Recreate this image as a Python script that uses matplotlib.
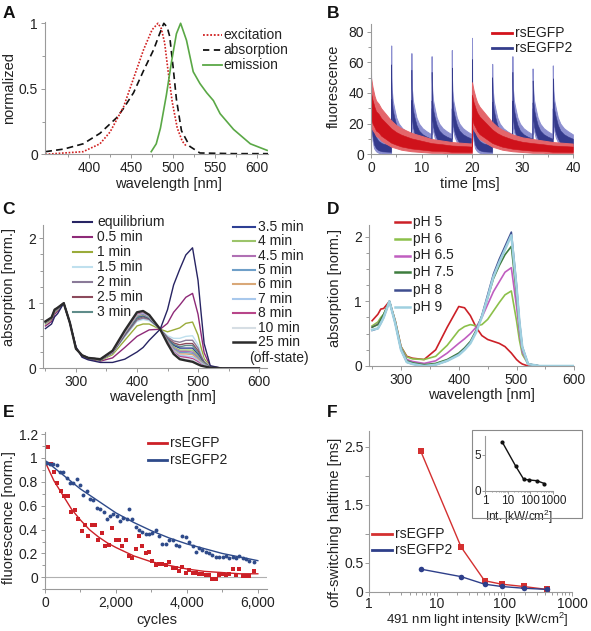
import numpy as np
import matplotlib
matplotlib.use('Agg')
import matplotlib.pyplot as plt
from matplotlib.lines import Line2D
from matplotlib.patches import Rectangle
from matplotlib.ticker import LogLocator, NullFormatter

plt.rcParams['font.family'] = ['Liberation Sans', 'DejaVu Sans']
plt.rcParams['mathtext.fontset'] = 'custom'
plt.rcParams['mathtext.rm'] = 'Liberation Sans'
plt.rcParams['mathtext.it'] = 'Liberation Sans:italic'
plt.rcParams['mathtext.bf'] = 'Liberation Sans:bold'

# ---------------- data ----------------
# Panel A: spectra (wavelength nm, normalized)
a_exc_nm = [348, 370, 393, 413, 425, 441, 453, 465, 475, 482, 486, 490, 494, 499, 505, 511, 516]
a_exc = [0.0, 0.01, 0.02, 0.08, 0.17, 0.36, 0.58, 0.80, 0.95, 1.00, 0.96, 0.85, 0.64, 0.40, 0.20, 0.10, 0.06]
a_abs_nm = [348, 370, 393, 413, 433, 441, 453, 465, 477, 484, 489, 493, 496, 500, 504, 510, 520, 532, 572, 613]
a_abs = [0.02, 0.04, 0.08, 0.16, 0.28, 0.35, 0.47, 0.64, 0.80, 0.92, 1.00, 0.97, 0.90, 0.67, 0.42, 0.18, 0.06, 0.01, 0.005, 0.005]
a_em_nm = [474, 480, 485, 492, 498, 504, 509, 516, 524, 532, 540, 548, 556, 572, 592, 612]
a_em = [0.02, 0.08, 0.20, 0.45, 0.70, 0.92, 1.00, 0.87, 0.63, 0.54, 0.47, 0.41, 0.31, 0.19, 0.08, 0.03]

# Panel B: noisy fluorescence traces, read as lower/upper envelopes
b_red_t = [0, 0.3, 0.7, 1, 1.5, 2, 3, 4, 5, 6, 8, 10, 12, 14, 16, 18, 19.95,
           20, 20.3, 20.7, 21, 21.5, 22, 23, 24, 25, 26, 28, 30, 32, 34, 36, 38, 39.95]
b_red_hi = [50, 44, 38, 35, 33, 30, 26, 22, 19, 17, 14, 12, 10, 9, 8, 7.5, 7,
            47, 42, 37, 34, 31, 29, 25, 21, 18, 16, 13, 11, 10, 9, 8, 7.5, 7]
b_red_lo = [18, 16, 14, 12, 11, 9, 7, 5, 4, 3, 2, 1.5, 1, 1, 0.5, 0.5, 0.5,
            20, 16, 14, 12, 10, 9, 7, 5, 4, 3, 2, 1.5, 1, 1, 0.5, 0.5, 0.5]
b_blue_starts = [0, 4, 8, 12, 16, 20, 24, 28, 32, 36]
b_blue_peaks = [57, 71, 66, 64, 68, 76, 59, 64, 56, 58]
b_blue_offsets = [0, 0.03, 0.12, 0.3, 0.6, 1.0, 1.5, 2.2, 3.0, 3.97]
b_blue_hi_first = [45, 36, 28, 20, 15, 12, 10, 9, 8]
b_blue_lo_first = [30, 24, 16, 9, 4, 2, 1, 0.5, 0.5, 0.5]
b_blue_hi_rest = [50, 42, 35, 30, 24, 20, 17, 15, 13]
b_blue_lo_rest = [30, 26, 20, 15, 11, 8, 5, 4, 3.5, 3.5]

# Panel C: absorption spectra during off-switching
c_nm = [250, 260, 265, 270, 280, 290, 300, 310, 320, 340, 360, 380, 400, 410, 420, 438,
        450, 460, 470, 480, 491, 500, 505, 510, 520, 540, 600]
c_eq = [0.61, 0.68, 0.79, 0.84, 1.00, 0.70, 0.33, 0.17, 0.13, 0.09, 0.09, 0.14, 0.25, 0.32, 0.43, 0.60,
        0.90, 1.28, 1.52, 1.74, 1.85, 1.35, 0.85, 0.38, 0.04, 0.0, 0.0]
c_05 = [0.65, 0.72, 0.83, 0.88, 1.00, 0.70, 0.32, 0.18, 0.14, 0.11, 0.16, 0.32, 0.49, 0.54, 0.59, 0.60,
        0.69, 0.86, 0.97, 1.09, 1.15, 0.83, 0.53, 0.24, 0.03, 0.0, 0.0]
c_1 = [0.68, 0.75, 0.86, 0.90, 1.00, 0.70, 0.31, 0.19, 0.15, 0.12, 0.21, 0.43, 0.65, 0.68, 0.68, 0.60,
       0.56, 0.59, 0.62, 0.69, 0.71, 0.51, 0.32, 0.15, 0.02, 0.0, 0.0]
c_15 = [0.69, 0.76, 0.87, 0.91, 1.00, 0.70, 0.31, 0.19, 0.15, 0.13, 0.23, 0.48, 0.72, 0.75, 0.73, 0.60,
        0.50, 0.46, 0.46, 0.49, 0.50, 0.36, 0.23, 0.11, 0.02, 0.0, 0.0]
c_2 = [0.70, 0.76, 0.88, 0.91, 1.00, 0.70, 0.31, 0.19, 0.15, 0.13, 0.24, 0.50, 0.74, 0.77, 0.75, 0.60,
       0.48, 0.42, 0.40, 0.43, 0.43, 0.31, 0.19, 0.10, 0.02, 0.0, 0.0]
c_25 = [0.70, 0.76, 0.88, 0.92, 1.00, 0.70, 0.30, 0.20, 0.16, 0.13, 0.24, 0.51, 0.76, 0.79, 0.76, 0.60,
        0.46, 0.39, 0.36, 0.38, 0.38, 0.27, 0.17, 0.09, 0.01, 0.0, 0.0]
c_3 = [0.70, 0.77, 0.88, 0.92, 1.00, 0.70, 0.30, 0.20, 0.16, 0.13, 0.24, 0.52, 0.77, 0.80, 0.77, 0.60,
       0.45, 0.37, 0.33, 0.35, 0.35, 0.24, 0.15, 0.08, 0.01, 0.0, 0.0]
c_35 = [0.71, 0.77, 0.89, 0.92, 1.00, 0.70, 0.30, 0.20, 0.16, 0.13, 0.25, 0.53, 0.79, 0.81, 0.77, 0.60,
        0.44, 0.35, 0.31, 0.31, 0.31, 0.21, 0.14, 0.07, 0.01, 0.0, 0.0]
c_4 = [0.71, 0.77, 0.89, 0.92, 1.00, 0.70, 0.30, 0.20, 0.16, 0.14, 0.25, 0.54, 0.80, 0.82, 0.78, 0.60,
       0.43, 0.33, 0.28, 0.28, 0.28, 0.19, 0.12, 0.07, 0.01, 0.0, 0.0]
c_45 = [0.71, 0.77, 0.89, 0.92, 1.00, 0.70, 0.30, 0.20, 0.16, 0.14, 0.25, 0.54, 0.81, 0.83, 0.79, 0.60,
        0.42, 0.31, 0.26, 0.26, 0.25, 0.17, 0.11, 0.06, 0.01, 0.0, 0.0]
c_5 = [0.71, 0.77, 0.89, 0.92, 1.00, 0.70, 0.30, 0.20, 0.16, 0.14, 0.26, 0.55, 0.81, 0.84, 0.79, 0.60,
       0.42, 0.30, 0.24, 0.24, 0.23, 0.16, 0.10, 0.06, 0.01, 0.0, 0.0]
c_6 = [0.71, 0.77, 0.89, 0.93, 1.00, 0.70, 0.30, 0.20, 0.16, 0.14, 0.26, 0.55, 0.82, 0.85, 0.80, 0.60,
       0.41, 0.28, 0.22, 0.22, 0.21, 0.14, 0.09, 0.05, 0.01, 0.0, 0.0]
c_7 = [0.72, 0.78, 0.90, 0.93, 1.00, 0.70, 0.30, 0.20, 0.16, 0.14, 0.26, 0.56, 0.83, 0.85, 0.80, 0.60,
       0.40, 0.27, 0.20, 0.19, 0.18, 0.12, 0.08, 0.05, 0.01, 0.0, 0.0]
c_8 = [0.72, 0.78, 0.90, 0.93, 1.00, 0.70, 0.30, 0.20, 0.16, 0.14, 0.26, 0.57, 0.84, 0.86, 0.81, 0.60,
       0.40, 0.25, 0.18, 0.17, 0.15, 0.10, 0.06, 0.04, 0.01, 0.0, 0.0]
c_10 = [0.72, 0.78, 0.90, 0.93, 1.00, 0.70, 0.30, 0.20, 0.16, 0.14, 0.27, 0.57, 0.85, 0.87, 0.81, 0.60,
        0.39, 0.24, 0.16, 0.14, 0.13, 0.08, 0.05, 0.04, 0.01, 0.0, 0.0]
c_25min = [0.72, 0.78, 0.90, 0.93, 1.00, 0.70, 0.30, 0.20, 0.16, 0.14, 0.27, 0.58, 0.86, 0.88, 0.82, 0.60,
           0.38, 0.22, 0.14, 0.12, 0.10, 0.06, 0.04, 0.03, 0.01, 0.0, 0.0]
c_labels = ['equilibrium', '0.5 min', '1 min', '1.5 min', '2 min', '2.5 min', '3 min', '3.5 min',
            '4 min', '4.5 min', '5 min', '6 min', '7 min', '8 min', '10 min', '25 min']
c_colors = ['#272463', '#8e2a78', '#9aab3a', '#bfe0ee', '#8a7a98', '#8c4a5c', '#5f8c8a', '#2e3f94',
            '#9cc46a', '#b070b4', '#6f9fc8', '#d9a878', '#a8c8ec', '#b8468a', '#d6dee4', '#2b2b2b']

# Panel D: absorption spectra at different pH
d_nm = [250, 260, 265, 270, 280, 290, 300, 310, 320, 340, 360, 380, 400, 410, 420, 430, 440,
        450, 460, 470, 480, 491, 500, 505, 510, 520, 540, 600]
d_ph5 = [0.70, 0.80, 0.88, 0.89, 1.00, 0.70, 0.30, 0.15, 0.12, 0.10, 0.25, 0.60, 0.92, 0.90, 0.78, 0.60, 0.47,
         0.41, 0.38, 0.35, 0.30, 0.20, 0.10, 0.06, 0.03, 0.0, 0.0, 0.0]
d_ph6 = [0.62, 0.68, 0.75, 0.80, 1.00, 0.70, 0.30, 0.14, 0.11, 0.10, 0.15, 0.32, 0.55, 0.61, 0.64, 0.62, 0.64,
         0.72, 0.85, 0.98, 1.10, 1.16, 0.70, 0.40, 0.18, 0.03, 0.0, 0.0]
d_ph65 = [0.60, 0.65, 0.72, 0.78, 1.00, 0.68, 0.28, 0.10, 0.07, 0.04, 0.08, 0.20, 0.35, 0.42, 0.50, 0.60, 0.75,
          0.95, 1.15, 1.30, 1.45, 1.52, 0.92, 0.52, 0.22, 0.03, 0.0, 0.0]
d_ph75 = [0.60, 0.64, 0.72, 0.80, 1.00, 0.68, 0.27, 0.08, 0.05, 0.02, 0.04, 0.10, 0.20, 0.28, 0.38, 0.55, 0.77,
          1.05, 1.35, 1.55, 1.72, 1.85, 1.10, 0.62, 0.27, 0.03, 0.0, 0.0]
d_ph8 = [0.55, 0.58, 0.66, 0.75, 1.00, 0.66, 0.25, 0.06, 0.03, 0.0, 0.02, 0.08, 0.18, 0.26, 0.36, 0.53, 0.78,
         1.10, 1.42, 1.65, 1.85, 2.07, 1.25, 0.70, 0.30, 0.03, 0.0, 0.0]
d_ph9 = [0.56, 0.58, 0.66, 0.75, 1.00, 0.66, 0.25, 0.06, 0.03, 0.0, 0.02, 0.08, 0.17, 0.25, 0.35, 0.52, 0.76,
         1.06, 1.38, 1.60, 1.80, 2.02, 1.22, 0.68, 0.29, 0.03, 0.0, 0.0]
d_labels = ['pH 5', 'pH 6', 'pH 6.5', 'pH 7.5', 'pH 8', 'pH 9']
d_colors = ['#cc2027', '#8cc04a', '#c05ec0', '#3e7d3e', '#3e4d8f', '#9fd0e0']

# Panel E: fluorescence vs switching cycles
e_red_x = [75, 160, 250, 350, 450, 545, 640, 735, 850, 940, 1035, 1130, 1220, 1315, 1410, 1505, 1600, 1695,
           1805, 1900, 1995, 2090, 2180, 2275, 2370, 2465, 2560, 2650, 2745, 2840, 2935, 3030, 3125, 3215,
           3310, 3405, 3500, 3595, 3690, 3780, 3875, 3970, 4065, 4160, 4250, 4345, 4440, 4535, 4630, 4720,
           4815, 4910, 5005, 5100, 5195, 5290, 5380, 5475, 5570, 5665, 5760, 5880]
e_red_y = [1.09, 0.95, 0.88, 0.79, 0.72, 0.68, 0.68, 0.55, 0.56, 0.49, 0.39, 0.44, 0.35, 0.44, 0.44, 0.31,
           0.37, 0.26, 0.27, 0.41, 0.31, 0.31, 0.26, 0.31, 0.18, 0.16, 0.24, 0.35, 0.26, 0.20, 0.21, 0.14,
           0.10, 0.11, 0.11, 0.10, 0.13, 0.08, 0.08, 0.05, 0.09, 0.04, 0.06, 0.04, 0.04, 0.03, 0.03, 0.02,
           0.02, -0.01, -0.01, 0.02, 0.03, 0.02, 0.03, 0.07, 0.02, 0.07, 0.01, 0.01, 0.01, 0.05]
e_blue_x = [50, 140, 235, 330, 425, 515, 610, 705, 800, 895, 990, 1085, 1175, 1270, 1365, 1460, 1555, 1650,
            1740, 1835, 1930, 2025, 2120, 2210, 2305, 2370, 2465, 2560, 2650, 2745, 2840, 2935, 3030, 3125,
            3215, 3310, 3405, 3500, 3595, 3690, 3780, 3875, 3970, 4065, 4160, 4250, 4345, 4440, 4535, 4630,
            4720, 4815, 4910, 5005, 5100, 5195, 5290, 5380, 5475, 5570, 5665, 5760, 5880]
e_blue_y = [0.96, 0.95, 0.95, 0.94, 0.88, 0.88, 0.83, 0.79, 0.79, 0.82, 0.77, 0.69, 0.72, 0.66, 0.65, 0.58,
            0.57, 0.55, 0.49, 0.51, 0.53, 0.51, 0.47, 0.50, 0.49, 0.57, 0.49, 0.42, 0.40, 0.38, 0.36, 0.36,
            0.37, 0.40, 0.35, 0.28, 0.28, 0.31, 0.31, 0.27, 0.26, 0.35, 0.34, 0.30, 0.26, 0.21, 0.25, 0.23,
            0.21, 0.20, 0.19, 0.17, 0.17, 0.17, 0.18, 0.16, 0.17, 0.16, 0.18, 0.16, 0.15, 0.14, 0.13]
e_fit_x = [0, 250, 500, 750, 1000, 1250, 1500, 1750, 2000, 2500, 3000, 3500, 4000, 4500, 5000, 5500, 6000]
e_fit_red = [0.97, 0.81, 0.69, 0.57, 0.48, 0.40, 0.34, 0.29, 0.25, 0.18, 0.13, 0.10, 0.07, 0.05, 0.04, 0.03, 0.03]
e_fit_blue = [0.98, 0.92, 0.86, 0.80, 0.74, 0.69, 0.64, 0.59, 0.54, 0.46, 0.39, 0.33, 0.28, 0.24, 0.20, 0.17, 0.14]

# Panel F: off-switching halftime vs intensity
f_int = [5.8, 23, 51, 91, 192, 420]
f_red = [2.43, 0.77, 0.19, 0.13, 0.09, 0.04]
f_blue = [0.39, 0.26, 0.13, 0.09, 0.06, 0.04]
f_ratio = [6.8, 3.4, 1.6, 1.5, 1.4, 1.0]

# ---------------- figure ----------------
W, H = 591, 631
TXT = '#222222'
SP = '#9a9a9a'

fig = plt.figure(figsize=(W / 100, H / 100), dpi=100)


def px_axes(l, t, r, b):
    return fig.add_axes([l / W, 1 - b / H, (r - l) / W, (b - t) / H])


def style(ax, fs=10):
    for s in ['top', 'right']:
        ax.spines[s].set_visible(False)
    for s in ['left', 'bottom']:
        ax.spines[s].set_color(SP)
        ax.spines[s].set_linewidth(0.8)
    ax.tick_params(which='both', direction='out', color=SP, labelcolor=TXT, labelsize=fs, width=0.7)
    ax.tick_params(which='major', length=3, pad=2)
    ax.tick_params(which='minor', length=2)


def ticks(ax, xmaj, xlab, xmin, ymaj, ylab, ymin):
    ax.set_xticks(xmaj)
    ax.set_xticklabels(xlab)
    ax.set_xticks(xmin, minor=True)
    ax.set_yticks(ymaj)
    ax.set_yticklabels(ylab)
    ax.set_yticks(ymin, minor=True)


def labels(ax, box, xl, xc, xt, yl, yr, yc, fs=10.5, xfs=None):
    l, t, r, b = box
    ax.set_xlabel(xl, fontsize=xfs or fs, color=TXT)
    ax.xaxis.set_label_coords((xc - l) / (r - l), (b - xt) / (b - t))
    ax.set_ylabel(yl, fontsize=fs, color=TXT)
    ax.yaxis.set_label_coords((yr - l) / (r - l), (b - yc) / (b - t))


def legend(entries, xh0, xh1, xt, ys, fs=10):
    for (lab, kw), y in zip(entries, ys):
        if kw is not None:
            fig.add_artist(Line2D([xh0 / W, xh1 / W], [1 - y / H] * 2, transform=fig.transFigure, **kw))
        fig.text(xt / W, 1 - y / H, lab, ha='left', va='center', fontsize=fs, color=TXT)


def letter(s, x, y):
    fig.text(x / W, 1 - y / H, s, fontsize=12.5, fontweight='bold', color='#111111', ha='left', va='top')


def noisy_band(ax, t, lo, hi, light, dark):
    t, lo, hi = np.asarray(t, float), np.asarray(lo, float), np.asarray(hi, float)
    ax.fill_between(t, lo, hi, facecolor=light, edgecolor=light, lw=0.7)
    span = hi - lo
    ax.fill_between(t, lo + 0.15 * span, hi - 0.3 * span, facecolor=dark, edgecolor=dark, lw=0.4)


# ---- A ----
boxA = (45, 21.7, 268, 154.3)
ax = px_axes(*boxA)
style(ax)
ax.plot(a_abs_nm, a_abs, color='#111111', lw=1.2, ls=(0, (4, 2.5)))
ax.plot(a_exc_nm, a_exc, color='#d02020', lw=1.2, ls=(0, (1, 1)))
ax.plot(a_em_nm, a_em, color='#5aa846', lw=1.2)
ax.set_xlim(347.6, 613)
ax.set_ylim(0, 1.012)
ticks(ax, [400, 450, 500, 550, 600], ['400', '450', '500', '550', '600'], [375, 425, 475, 525, 575],
      [0, 0.5, 1], ['0', '0.5', '1'], [0.25, 0.75])
labels(ax, boxA, 'wavelength [nm]', 168, 176.5, 'normalized', 16, 88)
legend([('excitation', dict(color='#d02020', lw=1.3, ls=(0, (1, 1)))),
        ('absorption', dict(color='#111111', lw=1.3, ls=(0, (3.5, 2.5)))),
        ('emission', dict(color='#5aa846', lw=1.3))],
       203, 222, 223.5, [35, 50, 65])
letter('A', 3, 6)

# ---- B ----
boxB = (371, 24, 573, 154.3)
ax = px_axes(*boxB)
style(ax)
bt, bhi, blo = [], [], []
for k, (s, p) in enumerate(zip(b_blue_starts, b_blue_peaks)):
    first = (k % 5 == 0)
    hi = [p] + (b_blue_hi_first if first else b_blue_hi_rest)
    lo = b_blue_lo_first if first else b_blue_lo_rest
    bt += [s + o for o in b_blue_offsets]
    bhi += hi
    blo += lo
noisy_band(ax, bt, blo, bhi, '#8c8fd0', '#343a8c')
noisy_band(ax, b_red_t, b_red_lo, b_red_hi, '#e4666b', '#cf121b')
ax.set_xlim(0, 40)
ax.set_ylim(0, 85)
ticks(ax, [0, 10, 20, 30, 40], ['0', '10', '20', '30', '40'], [5, 15, 25, 35],
      [0, 20, 40, 60, 80], ['0', '20', '40', '60', '80'], [10, 30, 50, 70])
labels(ax, boxB, 'time [ms]', 470, 176.5, 'fluorescence', 341, 86)
legend([('rsEGFP', dict(color='#d3131c', lw=2)), ('rsEGFP2', dict(color='#343d8c', lw=2))],
       492, 512, 515, [33.3, 47.7])
letter('B', 327, 6)

# ---- C ----
boxC = (43, 225, 267, 368.3)
ax = px_axes(*boxC)
style(ax)
c_curves = [c_eq, c_05, c_1, c_15, c_2, c_25, c_3, c_35, c_4, c_45, c_5, c_6, c_7, c_8, c_10, c_25min]
order = list(range(1, 15)) + [0, 15]
for i in order:
    ax.plot(c_nm, c_curves[i], color=c_colors[i], lw=1.7 if i == 15 else 1.0)
ax.set_xlim(246, 613)
ax.set_ylim(0, 2.2)
ticks(ax, [300, 400, 500, 600], ['300', '400', '500', '600'], [250, 350, 450, 550],
      [0, 1, 2], ['0', '1', '2'], [0.25, 0.5, 0.75, 1.25, 1.5, 1.75])
labels(ax, boxC, 'wavelength [nm]', 162, 389.5, 'absorption [norm.]', 16, 287)
legend([(c_labels[i], dict(color=c_colors[i], lw=1.5)) for i in range(7)],
       73, 92, 97, [221.7 + 15 * i for i in range(7)])
legend([(c_labels[i], dict(color=c_colors[i], lw=1.8 if i == 15 else 1.5)) for i in range(7, 16)],
       233, 255, 258, [226.7 + 14.4 * i for i in range(9)])
fig.text(249 / W, 1 - 357.7 / H, '(off-state)', ha='left', va='center', fontsize=10, color=TXT)
letter('C', 2, 202)

# ---- D ----
boxD = (369, 225, 574.3, 366)
ax = px_axes(*boxD)
style(ax)
d_curves = [d_ph5, d_ph6, d_ph65, d_ph75, d_ph8, d_ph9]
for i, ys in enumerate(d_curves):
    ax.plot(d_nm, ys, color=d_colors[i], lw=1.8 if i == 5 else 1.2)
ax.set_xlim(244.6, 600)
ax.set_ylim(0, 2.18)
ticks(ax, [300, 400, 500, 600], ['300', '400', '500', '600'], [250, 350, 450, 550],
      [0, 1, 2], ['0', '1', '2'], [0.25, 0.5, 0.75, 1.25, 1.5, 1.75])
labels(ax, boxD, 'wavelength [nm]', 481, 388, 'absorption [norm.]', 342, 288)
legend([(d_labels[i], dict(color=d_colors[i], lw=1.8)) for i in range(6)],
       395, 410, 413, [221.7, 238.5, 255.5, 272.5, 289.5, 306.5])
letter('D', 327, 202)

# ---- E ----
boxE = (45, 431.7, 266.7, 589.3)
ax = px_axes(*boxE)
style(ax)
ax.axhline(0, color='#b0b0b0', lw=0.8, zorder=0)
ax.plot(e_fit_x, e_fit_red, color='#cc2027', lw=1.0)
ax.plot(e_fit_x, e_fit_blue, color='#2e4a8a', lw=1.0)
ax.plot(e_red_x, e_red_y, 's', color='#cc2027', ms=2.6, mew=0)
ax.plot(e_blue_x, e_blue_y, 'o', color='#2e4a8a', ms=2.8, mew=0)
ax.set_xlim(0, 6250)
ax.set_ylim(-0.1, 1.22)
ticks(ax, [0, 2000, 4000, 6000], ['0', '2,000', '4,000', '6,000'], [1000, 3000, 5000],
      [0, 0.2, 0.4, 0.6, 0.8, 1.0, 1.2], ['0', '0.2', '0.4', '0.6', '0.8', '1', '1.2'], [-0.1, 0.1, 0.3, 0.5, 0.7, 0.9, 1.1])
labels(ax, boxE, 'cycles', 157, 613, 'fluorescence [norm.]', 16, 518)
legend([('rsEGFP', dict(color='#cc2027', lw=2)), ('rsEGFP2', dict(color='#2e4a8a', lw=2))],
       148, 167, 170, [443.3, 460])
letter('E', 3, 405)

# ---- F ----
boxF = (369, 430.7, 572, 591.7)
ax = px_axes(*boxF)
style(ax)
ax.tick_params(which='major', pad=1)
ax.set_xscale('log')
ax.plot(f_int, f_red, '-s', color='#d43030', lw=1.0, ms=3.8, mew=0)
ax.plot(f_int, f_blue, '-o', color='#2e3f8a', lw=1.0, ms=4.0, mew=0)
ax.set_xlim(1, 1000)
ax.set_ylim(0, 2.78)
ax.set_xticks([1, 10, 100, 1000])
ax.set_xticklabels(['1', '10', '100', '1000'])
ax.xaxis.set_minor_locator(LogLocator(base=10, subs=np.arange(2, 10)))
ax.xaxis.set_minor_formatter(NullFormatter())
ax.set_yticks([0, 0.5, 1.0, 1.5, 2.0, 2.5])
ax.set_yticklabels(['0', '0.5', '', '1.5', '', '2.5'])
labels(ax, boxF, '491 nm light intensity [kW/cm$^2$]', 477, 611, 'off-switching halftime [ms]', 342, 522, xfs=9.5)
legend([('rsEGFP', dict(color='#d43030', lw=2)), ('rsEGFP2', dict(color='#2e3f8a', lw=2))],
       372, 392, 395, [534, 550])
letter('F', 327, 405)

# inset
fig.add_artist(Rectangle((472 / W, 1 - 518 / H), 110 / W, 88 / H, transform=fig.transFigure,
                         fill=False, edgecolor='#8a8a8a', lw=0.8))
boxI = (485, 436, 553, 490.7)
ax = px_axes(*boxI)
style(ax, fs=8.5)
ax.tick_params(which='major', length=2, pad=1)
ax.tick_params(which='minor', length=1)
ax.set_xscale('log')
ax.plot(f_int, f_ratio, '-o', color='#111111', lw=1.0, ms=2.0)
ax.set_xlim(1, 1000)
ax.set_ylim(0, 7.66)
ax.set_xticks([1, 10, 100, 1000])
ax.set_xticklabels(['1', '10', '100', '1000'])
ax.xaxis.set_minor_locator(LogLocator(base=10, subs=np.arange(2, 10)))
ax.xaxis.set_minor_formatter(NullFormatter())
ax.set_yticks([0, 5])
ax.set_yticklabels(['0', '5'])
ax.set_xlabel('Int. [kW/cm$^2$]', fontsize=8.5, color=TXT, labelpad=1)

fig.savefig('out.png', dpi=100)
